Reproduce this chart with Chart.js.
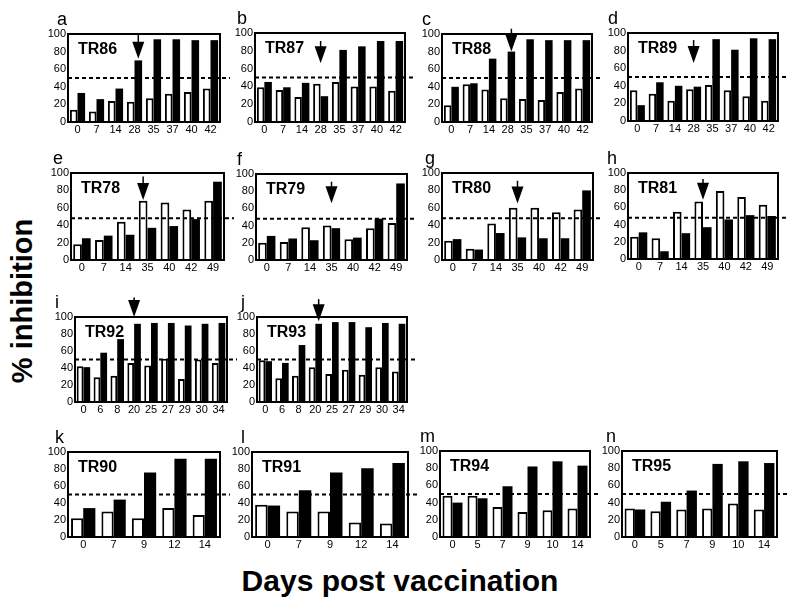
<!DOCTYPE html>
<html><head><meta charset="utf-8">
<script src="https://cdn.jsdelivr.net/npm/chart.js@4.4.0/dist/chart.umd.min.js"></script>
<style>
body{margin:0;background:#fff;width:796px;height:611px;position:relative;overflow:hidden;font-family:"Liberation Sans",Arial,sans-serif;}
canvas{position:absolute;}
.yt{position:absolute;left:-128px;top:283px;width:300px;text-align:center;font-weight:bold;font-size:29px;line-height:36px;transform:rotate(-90deg);}
.xt{position:absolute;left:0;top:563px;width:800px;text-align:center;font-weight:bold;font-size:30px;line-height:36px;}
</style></head>
<body>
<div class="yt">% inhibition</div>
<div class="xt">Days post vaccination</div>
<script>
// ---- data ----
const panelLetters = ['a','b','c','d','e','f','g','h','i','j','k','l','m','n'];
const panelNames = ['TR86','TR87','TR88','TR89','TR78','TR79','TR80','TR81','TR92','TR93','TR90','TR91','TR94','TR95'];
const daysRow1 = ['0','7','14','28','35','37','40','42'];
const daysRow2 = ['0','7','14','35','40','42','49'];
const daysRow3 = ['0','6','8','20','25','27','29','30','34'];
const daysKL = ['0','7','9','12','14'];
const daysMN = ['0','5','7','9','10','14'];
const yTicks = [0,20,40,60,80,100];

const tr86White = [14,12,24,23,27,32,34,38];
const tr86Black = [33,26,38,70,94,94,93,93];
const tr87White = [39,36,28,43,45,40,40,35];
const tr87Black = [45,39,44,29,81,85,91,91];
const tr88White = [19,43,37,27,26,25,34,38];
const tr88Black = [40,44,72,80,94,93,93,93];
const tr89White = [35,31,23,36,41,35,28,23];
const tr89Black = [18,44,40,39,93,81,94,93];
const tr78White = [18,23,44,68,66,58,68];
const tr78Black = [25,28,29,37,39,47,90];
const tr79White = [20,21,38,40,24,37,43];
const tr79Black = [28,25,23,37,26,48,89];
const tr80White = [22,13,42,60,60,55,58];
const tr80Black = [24,12,31,26,25,25,80];
const tr81White = [26,24,55,67,79,72,63];
const tr81Black = [31,9,30,37,46,51,50];
const tr92White = [42,29,31,46,43,51,27,50,46];
const tr92Black = [41,58,74,92,93,93,90,92,93];
const tr93White = [49,28,31,41,33,38,32,41,36];
const tr93Black = [48,46,67,92,94,94,88,93,92];
const tr90White = [22,30,22,34,26];
const tr90Black = [34,44,76,92,92];
const tr91White = [38,30,30,17,16];
const tr91Black = [37,55,76,81,87];
const tr94White = [48,48,35,29,31,33];
const tr94Black = [40,45,59,82,88,83];
const tr95White = [33,30,32,33,39,32];
const tr95Black = [32,41,54,85,88,86];

const thresholds = [50,50,50,50,48,48,48,48,50,50,50,50,50,50];
const arrowDays = ['28','28','28','28','35','35','35','35','20','20',null,null,null,null];
const arrowTops = [100,91,106,92,96,91,91,93,123,121,null,null,null,null];
const arrowTips = [72,66,80,66,69,66,65,69,100,95,null,null,null,null];
const arrowSide = [1,0,1,0,-1,0,0,0,0,1,0,0,0,0];

const panelDays = [daysRow1,daysRow1,daysRow1,daysRow1,daysRow2,daysRow2,daysRow2,daysRow2,daysRow3,daysRow3,daysKL,daysKL,daysMN,daysMN];
const panelWhite = [tr86White,tr87White,tr88White,tr89White,tr78White,tr79White,tr80White,tr81White,tr92White,tr93White,tr90White,tr91White,tr94White,tr95White];
const panelBlack = [tr86Black,tr87Black,tr88Black,tr89Black,tr78Black,tr79Black,tr80Black,tr81Black,tr92Black,tr93Black,tr90Black,tr91Black,tr94Black,tr95Black];

// ---- layout ----
const boxes = [[68,34,220,122],[255,33,405,122],[442,34,592,122],[628,33,778,121],
  [71,173,224,260],[256,174,407,260],[442,173,593,260],[628,173,778,259],
  [75,317,227,402],[257,317,407,402],
  [68,452,220,537],[252,452,408,537],[440,451,590,537],[622,451,777,537]];
const letterDx = [11,18,20,20,18,19,17,21,20,16,13,11,20,16];
const YW = 30, PT = 26, PR = 12, XH = 18;
const FONT = '"Liberation Sans", Arial, sans-serif';

const deco = {
  id: 'deco',
  afterDatasetsDraw(chart) {
    const o = chart.options.plugins.deco;
    const {ctx, chartArea: {left, top, right, bottom}, scales: {x, y}} = chart;
    ctx.save();
    ctx.strokeStyle = '#000'; ctx.fillStyle = '#000';
    const yd = y.getPixelForValue(o.threshold);
    ctx.setLineDash([4, 3]); ctx.lineWidth = 2;
    ctx.beginPath(); ctx.moveTo(left, yd); ctx.lineTo(right + 10, yd); ctx.stroke();
    ctx.setLineDash([]);
    ctx.lineWidth = 2;
    ctx.strokeRect(left, top, right - left, bottom - top);
    ctx.font = 'bold 16px ' + FONT; ctx.textBaseline = 'top'; ctx.textAlign = 'left';
    ctx.fillText(o.name, left + 10, top + 8);
    ctx.font = '18px ' + FONT; ctx.textBaseline = 'alphabetic';
    ctx.fillText(o.letter, left - o.letterDx, top - 9);
    if (o.arrowDay != null) {
      const idx = chart.data.labels.indexOf(o.arrowDay);
      let ax = x.getPixelForValue(idx);
      if (o.arrowSide !== 0) ax = chart.getDatasetMeta(o.arrowSide < 0 ? 0 : 1).data[idx].x;
      const yTop = y.getPixelForValue(o.arrowTop), yTip = y.getPixelForValue(o.arrowTip);
      const triH = 17, hw = 6;
      ctx.lineWidth = 1.5;
      ctx.beginPath(); ctx.moveTo(ax, yTop); ctx.lineTo(ax, yTip - triH + 1); ctx.stroke();
      ctx.beginPath(); ctx.moveTo(ax - hw, yTip - triH); ctx.lineTo(ax + hw, yTip - triH); ctx.lineTo(ax, yTip); ctx.closePath(); ctx.fill();
    }
    ctx.restore();
  }
};

panelNames.forEach((name, i) => {
  const [L, T, R, B] = boxes[i];
  const cv = document.createElement('canvas');
  const w = YW + (R - L) + PR, h = PT + (B - T) + XH;
  cv.width = w; cv.height = h;
  cv.style.left = (L - YW) + 'px'; cv.style.top = (T - PT) + 'px';
  cv.style.width = w + 'px'; cv.style.height = h + 'px';
  document.body.appendChild(cv);
  new Chart(cv, {
    type: 'bar',
    data: {
      labels: panelDays[i],
      datasets: [
        {data: panelWhite[i], backgroundColor: '#fff', borderColor: '#000', borderWidth: 2, borderSkipped: 'bottom'},
        {data: panelBlack[i], backgroundColor: '#000', borderWidth: 0}
      ]
    },
    options: {
      responsive: false, animation: false, devicePixelRatio: 1,
      layout: {padding: {top: PT, right: PR, left: 0, bottom: 0}},
      datasets: {bar: {categoryPercentage: 0.8, barPercentage: 1.0}},
      plugins: {
        legend: {display: false}, tooltip: {enabled: false},
        deco: {threshold: thresholds[i], name: name, letter: panelLetters[i], letterDx: letterDx[i],
          arrowDay: arrowDays[i], arrowTop: arrowTops[i], arrowTip: arrowTips[i], arrowSide: arrowSide[i]}
      },
      scales: {
        x: {
          grid: {display: false, drawTicks: false}, border: {display: false},
          ticks: {color: '#000', font: {family: FONT, size: 11}, padding: 1, maxRotation: 0, autoSkip: false},
          afterFit: s => { s.height = XH; }
        },
        y: {
          min: 0, max: 100,
          afterBuildTicks: s => { s.ticks = yTicks.map(v => ({value: v})); },
          grid: {display: false, drawTicks: false}, border: {display: false},
          ticks: {color: '#000', font: {family: FONT, size: 11}, padding: 2},
          afterFit: s => { s.width = YW; }
        }
      }
    },
    plugins: [deco]
  });
});
</script>
</body></html>
